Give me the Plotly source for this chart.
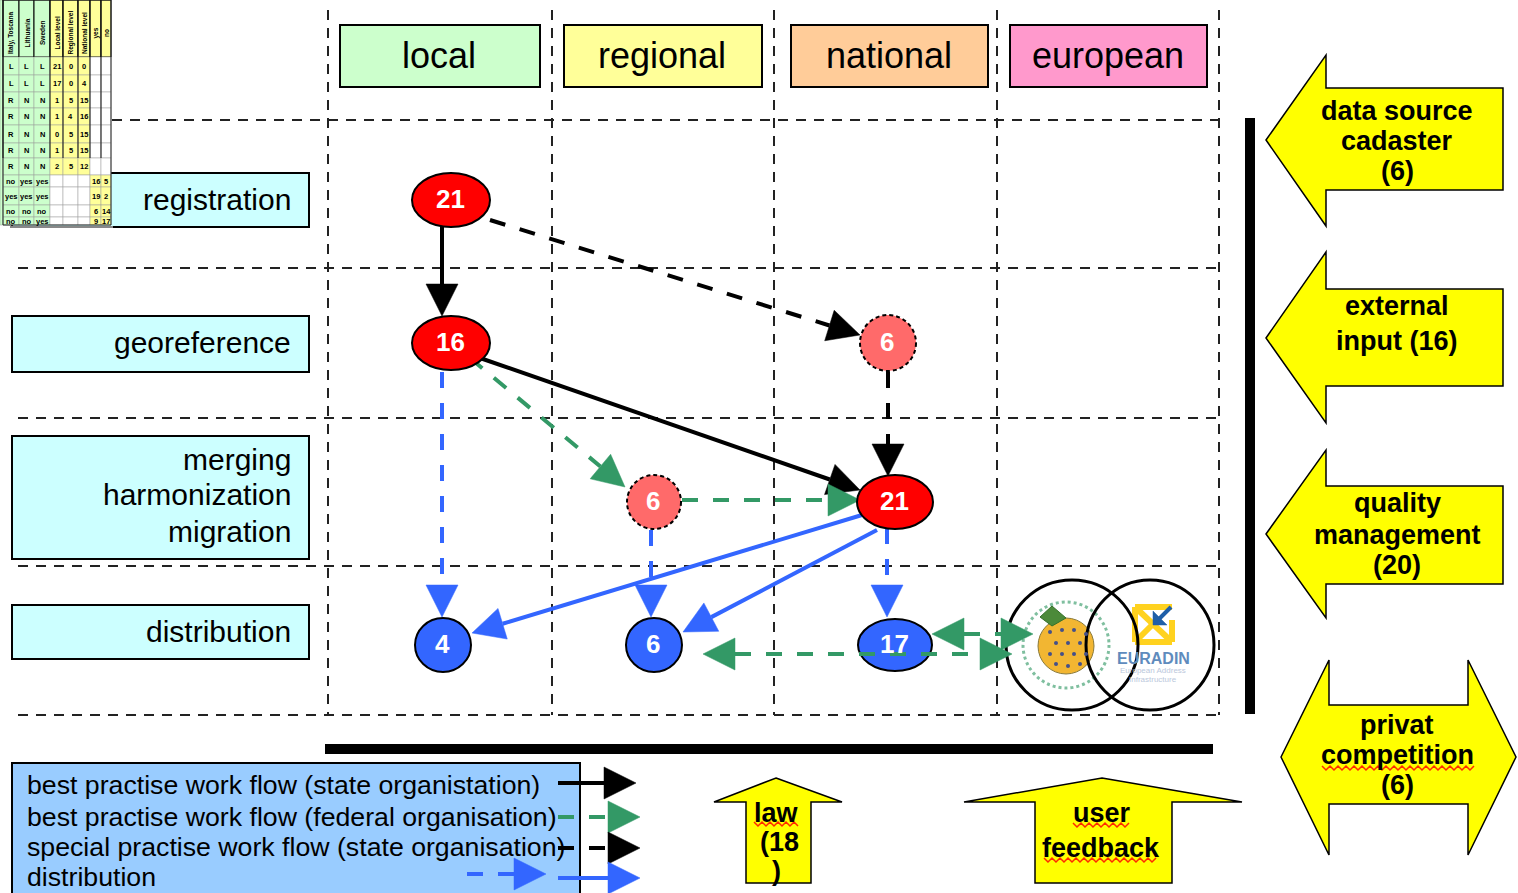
import math
import plotly.graph_objects as go

# ---- content ----
columns = ["local", "regional", "national", "european"]
column_colours = ["#CCFFCC", "#FFFF99", "#FFCC99", "#FF99CC"]
stages = ["registration", "georeference", "merging", "harmonization", "migration", "distribution"]
legend_items = [
    "best practise work flow (state organistation)",
    "best practise work flow (federal organisation)",
    "special practise work flow (state organisation)",
    "distribution",
]
node_values = [21, 16, 21, 6, 6, 4, 6, 17]
node_kinds = ["best", "best", "best", "special", "special", "dist", "dist", "dist"]
table_headers = ["Italy, Toscana", "Lithuania", "Sweden", "Local level", "Regional level",
                 "National level", "yes", "no"]
table_rows = [
    ["L", "L", "L", "21", "0", "0", "", ""],
    ["L", "L", "L", "17", "0", "4", "", ""],
    ["R", "N", "N", "1", "5", "15", "", ""],
    ["R", "N", "N", "1", "4", "16", "", ""],
    ["R", "N", "N", "0", "5", "15", "", ""],
    ["R", "N", "N", "1", "5", "15", "", ""],
    ["R", "N", "N", "2", "5", "12", "", ""],
    ["no", "yes", "yes", "", "", "", "16", "5"],
    ["yes", "yes", "yes", "", "", "", "19", "2"],
    ["no", "no", "no", "", "", "", "6", "14"],
    ["no", "no", "yes", "", "", "", "9", "17"],
]

# ---- geometry of the drawing ----
FONT = "Liberation Sans"
BLACK, GREEN, BLUE = "#000000", "#339966", "#3366FF"
shapes, notes = [], []


def text(x, y, s, size, color="#000000", bold=False, anchor="center", angle=0):
    notes.append(dict(x=x, y=y, xref="x", yref="y", text=f"<b>{s}</b>" if bold else s,
                      showarrow=False, xanchor=anchor, yanchor="middle", textangle=angle,
                      font=dict(family=FONT, size=size, color=color)))


def rect(x0, y0, x1, y1, fill, lc="#000000", lw=2):
    shapes.append(dict(type="rect", x0=x0, y0=y0, x1=x1, y1=y1, fillcolor=fill,
                       line=dict(color=lc, width=lw), layer="below"))


def line(x0, y0, x1, y1, color="#000000", w=2, dash="solid"):
    shapes.append(dict(type="line", x0=x0, y0=y0, x1=x1, y1=y1,
                       line=dict(color=color, width=w, dash=dash), layer="below"))


def poly(points, fill, lc="#000000", lw=1.5):
    path = "M " + " L ".join(f"{x},{y}" for x, y in points) + " Z"
    shapes.append(dict(type="path", path=path, fillcolor=fill,
                       line=dict(color=lc, width=lw), layer="below"))


def ellipse(cx, cy, rx, ry, fill, lc="#000000", lw=2, dash="solid"):
    shapes.append(dict(type="circle", x0=cx - rx, x1=cx + rx, y0=cy - ry, y1=cy + ry,
                       fillcolor=fill, line=dict(color=lc, width=lw, dash=dash), layer="below"))


def head(x0, y0, x1, y1, color, length=32, half=16):
    d = math.hypot(x1 - x0, y1 - y0)
    ux, uy = (x1 - x0) / d, (y1 - y0) / d
    bx, by = x1 - ux * length, y1 - uy * length
    poly([(x1, y1), (bx - uy * half, by + ux * half), (bx + uy * half, by - ux * half)],
         color, color, 0.5)
    return bx, by


def arrow(x0, y0, x1, y1, color, dashed=False, both=False, w=4):
    bx, by = head(x0, y0, x1, y1, color)
    sx, sy = (head(x1, y1, x0, y0, color) if both else (x0, y0))
    line(sx, sy, bx, by, color, w, "16px,15px" if dashed else "solid")


def squiggle(x0, x1, y):
    pts, x, up = [], x0, True
    while x <= x1:
        pts.append((x, y - 2 if up else y + 2))
        x += 4
        up = not up
    shapes.append(dict(type="path", path="M " + " L ".join(f"{a},{b}" for a, b in pts),
                       line=dict(color="#FF2A00", width=1.5), layer="below"))


# grid
for x in (328, 552, 774, 997, 1219):
    line(x, 10, x, 715, "#222222", 2, "10px,8px")
line(112, 120, 1219, 120, "#222222", 2, "10px,8px")
for y in (268, 418, 566, 715):
    line(18, y, 1219, y, "#222222", 2, "10px,8px")

# column headers
for name, colour, (x0, x1) in zip(columns, column_colours,
                                  [(340, 540), (564, 762), (791, 988), (1010, 1207)]):
    rect(x0, 25, x1, 87, colour)
    text((x0 + x1) / 2 - 1, 55, name, 36)

# stage boxes
rect(12, 173, 309, 227, "#CCFFFF")
rect(12, 316, 309, 372, "#CCFFFF")
rect(12, 436, 309, 559, "#CCFFFF")
rect(12, 605, 309, 659, "#CCFFFF")
for s, y in zip(stages, (199, 342, 459, 494, 531, 631)):
    text(293, y, s, 30, anchor="right")

# thick bars
line(1250, 118, 1250, 714, "#000000", 10)
line(325, 749, 1213, 749, "#000000", 10)

# workflow edges
arrow(442, 225, 442, 316, BLACK)
arrow(480, 358, 860, 490, BLACK)
arrow(490, 220, 860, 335, BLACK, dashed=True)
arrow(888, 372, 888, 476, BLACK, dashed=True)
arrow(470, 358, 625, 487, GREEN, dashed=True)
arrow(682, 500, 860, 500, GREEN, dashed=True)
arrow(442, 372, 442, 617, BLUE, dashed=True)
arrow(651, 530, 651, 617, BLUE, dashed=True)
arrow(887, 528, 887, 617, BLUE, dashed=True)
arrow(862, 515, 472, 633, BLUE)
arrow(877, 530, 683, 632, BLUE)

# nodes
node_style = {"best": ("#FF0000", "solid"), "special": ("#FF6A6A", "4px,3px"), "dist": (BLUE, "solid")}
node_geom = [(451, 200, 39, 27), (451, 343, 39, 27), (895, 502, 38, 27), (888, 343, 28, 28),
             (654, 502, 27, 27), (443, 645, 28, 27), (654, 645, 28, 27), (895, 645, 37, 26)]
for v, k, (cx, cy, rx, ry) in zip(node_values, node_kinds, node_geom):
    fill, dash = node_style[k]
    ellipse(cx, cy, rx, ry, fill, "#000000", 2, dash)
    text(cx - 1, cy - 1, v, 26, "#FFFFFF", bold=True)

# logo
ellipse(1066, 645, 43, 43, "rgba(0,0,0,0)", "#7FBF9F", 3, "dot")
ellipse(1066, 646, 28, 28, "#F2B632", "#8A7A3A", 1)
poly([(1040, 617), (1052, 606), (1066, 618), (1052, 626)], "#4C8A3A", "#35702A", 1)
for a, b, c, d in [(1135, 607, 1172, 607), (1135, 642, 1172, 642), (1135, 607, 1135, 642),
                   (1172, 620, 1172, 642), (1135, 607, 1172, 642), (1135, 642, 1152, 625)]:
    line(a, b, c, d, "#FFD21F", 6)
line(1171, 607, 1158, 620, "#1F5FA8", 4)
poly([(1153, 625), (1153, 611), (1167, 625)], "#1F5FA8", "#1F5FA8", 0.5)
text(1153, 658, "<b>EURADIN</b>", 16, "#5F8BBD")
text(1153, 670, "European Address", 8, "#BBC8DC")
text(1153, 679, "Infrastructure", 8, "#BBC8DC")
ellipse(1072, 645, 66, 65, "rgba(0,0,0,0)", "#000000", 3)
ellipse(1150, 645, 64, 65, "rgba(0,0,0,0)", "#000000", 3)
arrow(932, 634, 1033, 634, GREEN, dashed=True, both=True)
arrow(703, 654, 1012, 654, GREEN, dashed=True, both=True)

# yellow block arrows
Y = "#FFFF00"
poly([(1266, 140), (1326, 55), (1326, 88), (1503, 88), (1503, 190), (1326, 190), (1326, 226)], Y)
poly([(1266, 338), (1326, 252), (1326, 289), (1503, 289), (1503, 386), (1326, 386), (1326, 423)], Y)
poly([(1266, 534), (1326, 450), (1326, 486), (1503, 486), (1503, 584), (1326, 584), (1326, 618)], Y)
poly([(1281, 757), (1329, 660), (1329, 705), (1468, 705), (1468, 660), (1516, 757), (1468, 855),
      (1468, 804), (1329, 804), (1329, 855)], Y)
poly([(776, 778), (842, 802), (811, 802), (811, 883), (746, 883), (746, 802), (714, 802)], Y)
poly([(1102, 778), (1242, 802), (1172, 802), (1172, 883), (1035, 883), (1035, 802), (964, 802)], Y)
for x, y, s in [(1397, 111, "data source"), (1397, 141, "cadaster"), (1397, 171, "(6)"),
                (1397, 306, "external"), (1397, 341, "input (16)"),
                (1397, 503, "quality"), (1397, 535, "management"), (1397, 565, "(20)"),
                (1397, 725, "privat"), (1397, 755, "competition"), (1397, 785, "(6)"),
                (776, 813, "law"), (779, 842, "(18"), (776, 871, ")"),
                (1102, 813, "user"), (1101, 848, "feedback")]:
    text(x, y, s, 27, bold=True)
squiggle(754, 798, 824)
squiggle(1073, 1130, 825)
squiggle(1044, 1158, 860)
squiggle(1322, 1474, 768)

# legend
rect(12, 763, 580, 900, "#99CCFF")
for s, y in zip(legend_items, (785, 817, 847, 877)):
    text(25, y, s, 26.7, anchor="left")
arrow(558, 783, 636, 783, BLACK)
arrow(558, 817, 640, 817, GREEN, dashed=True)
arrow(558, 848, 640, 848, BLACK, dashed=True)
arrow(467, 874, 546, 874, BLUE, dashed=True)
arrow(558, 878, 640, 878, BLUE)

# small table (top-left)
col_edges = [3, 19, 34, 50, 63, 78, 90, 101, 111]
row_edges = [0, 57, 75, 92, 108, 125, 143, 158, 175, 187, 205, 217, 225]
line(10, 227, 113, 227, "#888888", 2)
rect(0, 0, 3, 225, "#CCFFCC", "#999999", 0.5)
for c in range(8):
    x0, x1 = col_edges[c], col_edges[c + 1]
    base = "#CCFFCC" if c < 3 else "#FFFF99"
    rect(x0, 0, x1, 57, base, "#000000", 1)
    text((x0 + x1) / 2, 33, table_headers[c], 6.5, bold=True, angle=-90)
    for r, row in enumerate(table_rows):
        y0, y1 = row_edges[r + 1], row_edges[r + 2]
        fill = base if (c < 3 or row[c]) else "#FFFFFF"
        rect(x0, y0, x1, y1, fill, "#999999", 0.5)
        if row[c]:
            text((x0 + x1) / 2, (y0 + y1) / 2, row[c], 7.5, bold=True)
rect(3, 0, 111, 225, "rgba(0,0,0,0)", "#222222", 1)
for x in (3, 50, 63, 78, 90, 101):
    line(x, 0, x, 158, "#111111", 1)

# dots on the logo's fruit
dot_x = [1050, 1062, 1074, 1086, 1056, 1068, 1080, 1050, 1062, 1074, 1086, 1056, 1068, 1080]
dot_y = [632, 630, 630, 634, 643, 643, 643, 654, 654, 654, 654, 664, 666, 664]

fig = go.Figure(go.Scatter(x=dot_x, y=dot_y, mode="markers", hoverinfo="skip", showlegend=False,
                           marker=dict(size=4, color="#44508A")))
fig.update_layout(
    width=1518, height=893, margin=dict(l=0, r=0, t=0, b=0),
    paper_bgcolor="#FFFFFF", plot_bgcolor="#FFFFFF", showlegend=False,
    xaxis=dict(range=[0, 1518], visible=False, fixedrange=True),
    yaxis=dict(range=[893, 0], visible=False, fixedrange=True),
    shapes=shapes, annotations=notes,
)
fig.write_html("out.html", config=dict(displayModeBar=False),
               post_script="document.body.style.margin='0';document.body.style.overflow='hidden';")
